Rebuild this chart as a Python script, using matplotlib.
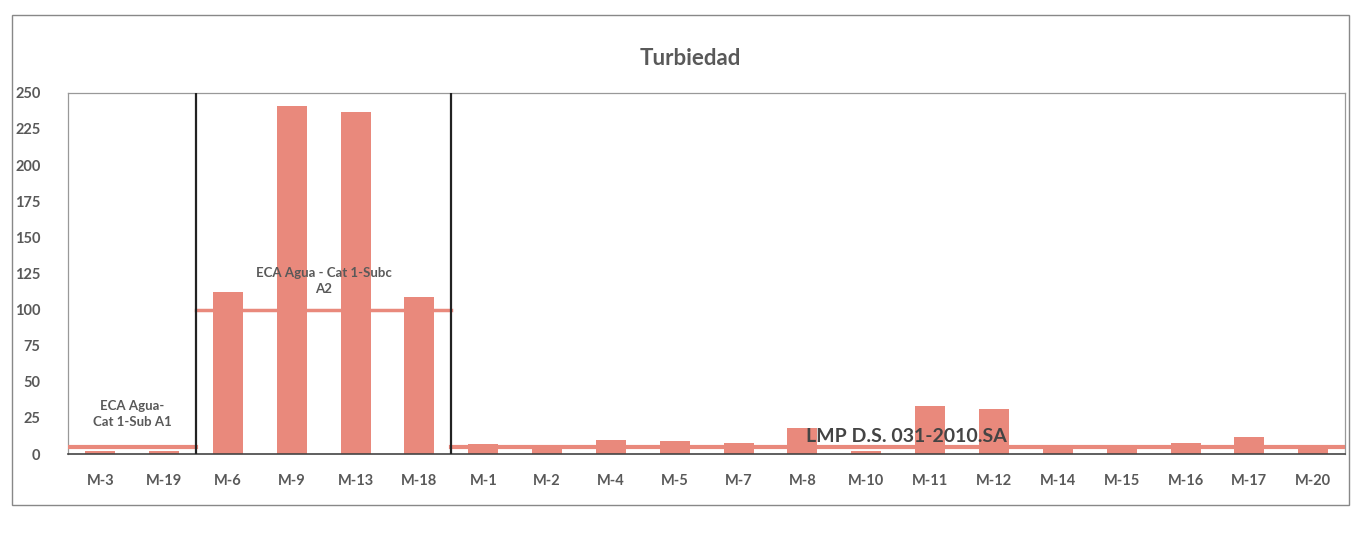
import matplotlib
matplotlib.use("Agg")
import matplotlib.pyplot as plt
from matplotlib.patches import Rectangle

categories = ["M-3", "M-19", "M-6", "M-9", "M-13", "M-18", "M-1", "M-2", "M-4", "M-5",
              "M-7", "M-8", "M-10", "M-11", "M-12", "M-14", "M-15", "M-16", "M-17", "M-20"]
turbiedad = [2, 2, 112, 241, 237, 109, 7, 6, 10, 9,
             8, 18, 2, 33, 31, 4, 4, 8, 12, 4]

eca_a1 = 5      # applies to M-3, M-19
eca_a2 = 100    # applies to M-6 .. M-18
lmp = 5         # applies to M-1 .. M-20
yticks = list(range(0, 251, 25))

bar_color = "#E9897C"
text_gray = "#595959"

plt.rcParams["font.family"] = ["Lato", "DejaVu Sans"]

fig = plt.figure(figsize=(13.67, 5.33), dpi=100)
ax = fig.add_axes([0.050, 0.148, 0.934, 0.678])

x = list(range(len(categories)))
ax.bar(x, turbiedad, width=0.47, color=bar_color, zorder=2)

# reference lines per group
ax.plot([-0.5, 1.5], [eca_a1, eca_a1], color=bar_color, lw=3, zorder=3)
ax.plot([1.5, 5.5], [eca_a2, eca_a2], color=bar_color, lw=2.5, zorder=3)
ax.plot([5.5, 19.5], [lmp, lmp], color=bar_color, lw=3, zorder=3)

# group dividers
for xd in (1.5, 5.5):
    ax.axvline(xd, color="#222222", lw=1.6, zorder=4)

ax.text(0.5, 28, "ECA Agua-\nCat 1-Sub A1", ha="center", va="center",
        fontsize=9.5, color=text_gray, fontweight="bold", linespacing=1.4)
ax.text(3.5, 120, "ECA Agua - Cat 1-Subc\nA2", ha="center", va="center",
        fontsize=9.5, color=text_gray, fontweight="bold", linespacing=1.4)
ax.text(11.05, 12, "LMP D.S. 031-2010.SA", ha="left", va="center",
        fontsize=14, color="#444444", fontweight="bold", zorder=5)

ax.set_xlim(-0.5, 19.5)
ax.set_ylim(0, 250)
ax.set_yticks(yticks)
ax.set_xticks(x)
ax.set_xticklabels(categories)
ax.tick_params(axis="both", length=0, labelsize=10.5, labelcolor=text_gray)
ax.tick_params(axis="x", pad=14)
ax.tick_params(axis="y", pad=20)
for lab in ax.get_xticklabels() + ax.get_yticklabels():
    lab.set_fontweight("bold")

for s in ["left", "top", "right"]:
    ax.spines[s].set_color("#999999")
    ax.spines[s].set_linewidth(0.9)
ax.spines["bottom"].set_color("#444444")
ax.spines["bottom"].set_linewidth(1.2)

fig.text(0.505, 0.89, "Turbiedad", ha="center", va="center", fontsize=16,
         fontweight="bold", color=text_gray)

fig.patches.append(Rectangle((0.009, 0.052), 0.978, 0.92, transform=fig.transFigure,
                             fill=False, edgecolor="#888888", lw=1.0))

fig.savefig("out.png", dpi=100, facecolor="white")
